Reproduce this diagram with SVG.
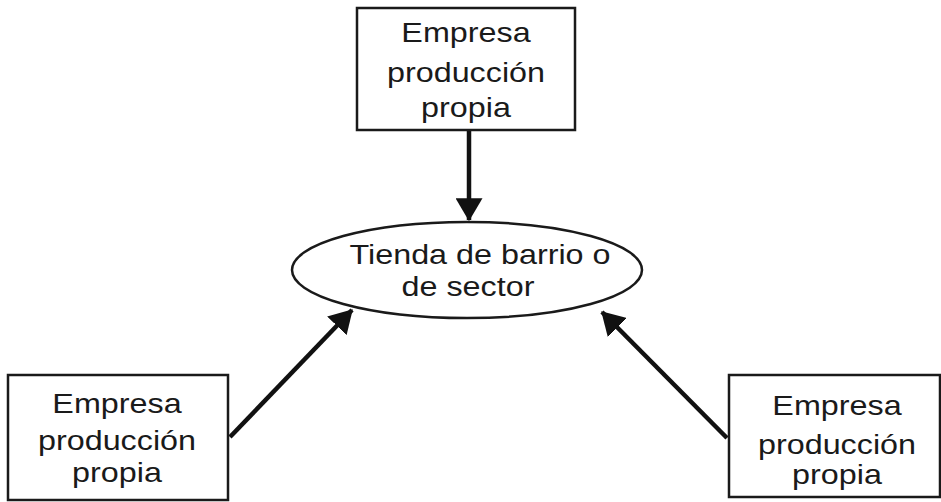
<svg xmlns="http://www.w3.org/2000/svg" width="941" height="502" viewBox="0 0 941 502">
<defs>
<style>
.box{fill:#fff;stroke:#1a1a1a;stroke-width:2.5}
.t{font-family:"Liberation Sans",Arial,sans-serif;font-size:27.5px;fill:#1a1a1a;text-anchor:middle}
.c{stroke:#111;stroke-width:4.5;fill:none}
</style>
<marker id="ah" viewBox="0 0 10 12" preserveAspectRatio="none" refX="9.5" refY="6" markerWidth="23" markerHeight="27" markerUnits="userSpaceOnUse" orient="auto">
<path d="M0,0 L10,6 L0,12 z" fill="#111"/>
</marker>
</defs>
<rect width="941" height="502" fill="#fff"/>
<g id="connectors">
<line class="c" x1="469" y1="131" x2="469" y2="220" marker-end="url(#ah)"/>
<line class="c" x1="230" y1="437" x2="352" y2="310" marker-end="url(#ah)"/>
<line class="c" x1="727" y1="438" x2="602" y2="312" marker-end="url(#ah)"/>
</g>
<g id="center">
<ellipse cx="467" cy="270" rx="175" ry="48" fill="#fff" stroke="#1a1a1a" stroke-width="2.5"/>
<text class="t" transform="matrix(1.175 0 0 1 480 0)" x="0" y="264">Tienda de barrio o</text>
<text class="t" transform="matrix(1.175 0 0 1 468 0)" x="0" y="296">de sector</text>
</g>
<g id="top">
<rect class="box" x="357" y="8" width="218" height="122"/>
<text class="t" transform="matrix(1.175 0 0 1 466 0)" x="0" y="42">Empresa</text>
<text class="t" transform="matrix(1.175 0 0 1 466 0)" x="0" y="82">producción</text>
<text class="t" transform="matrix(1.175 0 0 1 466 0)" x="0" y="117">propia</text>
</g>
<g id="left">
<rect class="box" x="8" y="375" width="220" height="125"/>
<text class="t" transform="matrix(1.175 0 0 1 117 0)" x="0" y="413">Empresa</text>
<text class="t" transform="matrix(1.175 0 0 1 117 0)" x="0" y="450">producción</text>
<text class="t" transform="matrix(1.175 0 0 1 117 0)" x="0" y="482">propia</text>
</g>
<g id="right">
<rect class="box" x="729" y="375" width="211" height="122"/>
<text class="t" transform="matrix(1.175 0 0 1 837 0)" x="0" y="415">Empresa</text>
<text class="t" transform="matrix(1.175 0 0 1 837 0)" x="0" y="454">producción</text>
<text class="t" transform="matrix(1.175 0 0 1 837 0)" x="0" y="484">propia</text>
</g>
</svg>
